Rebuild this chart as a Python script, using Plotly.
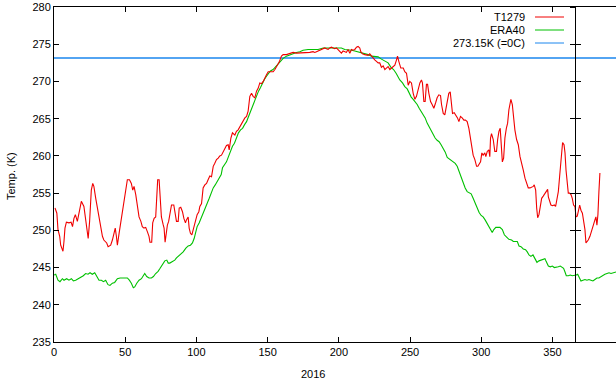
import plotly.graph_objects as go

# ---------------- data ----------------
t1279_day = [0.7, 2, 2.8, 4, 4.7, 6.3, 7, 7.7, 8.7, 10.5, 12, 13, 14, 15, 16.4, 17.6, 19.2, 21, 22.2, 23.4,
             24, 25, 26.2, 27.2, 28, 29.3, 30.4, 31.6, 32.8, 34, 35, 37, 38, 39.8, 41, 42.2, 43, 43.8, 44.5, 45.7,
             46.8, 48, 49.2, 50.4, 51.5, 53, 54.3, 55.3, 56.2, 57.4, 58.5, 59.7, 61, 62, 63.2, 64.4, 65.6, 66.7, 67.4, 68.6,
             69.3, 70.3, 71.4, 72, 72.8, 73.8, 74.5, 75.4, 76.6, 77.3, 78, 79, 79.6, 80.5, 81.3, 82.5, 84.1, 84.8, 86, 87.2,
             87.9, 89, 90.2, 91.2, 92.3, 93, 94.2, 94.9, 95.8, 96.8, 97.7, 98.6, 99.6, 100.5, 101.7, 102.4, 103.6, 104.7, 105.9, 107.1,
             108.2, 109.4, 110.6, 111.8, 112.9, 114.1, 115.3, 116.4, 117.6, 118.8, 120, 121.1, 122.3, 123, 124.2, 125.3, 127, 128.1, 129.3, 130.5,
             131.7, 132.8, 134, 135.2, 136.3, 137.5, 138.7, 139.8, 141, 142.2, 143.4, 144.5, 145.7, 146.9, 148, 149.2, 150.4, 151.5, 152.7, 153.9,
             155.1, 156.2, 157.4, 158.1, 159.7, 160.9, 163.2, 164.4, 165.5, 167.9, 170.2, 172.6, 174.9, 177.2, 179.6, 181.9, 183.1, 184.3, 186.6, 187.8,
             189, 190.1, 191.3, 192.5, 193.6, 194.8, 196, 197.1, 198.3, 199.5, 200.7, 201.8, 203, 204.2, 205.3, 206.5, 207.7, 208.9, 210, 211.2,
             212.4, 213.5, 214.7, 215.4, 216.6, 218.2, 219.4, 220.6, 221.7, 222.9, 224.1, 225.2, 226.4, 227.6, 228.7, 229.9, 231.1, 232.3, 233.4, 234.6,
             235.8, 236.9, 238.1, 239.3, 240.5, 241.2, 242.1, 243.5, 245.2, 246.3, 247.5, 248.7, 249.8, 251, 252.2, 253.4, 254.5, 255.7, 256.9, 258,
             258.7, 259.7, 260.6, 261.5, 262.3, 263.2, 264.4, 265.5, 266.7, 267.9, 269, 270.2, 271.4, 272.1, 273.3, 274.4, 275.1, 276.1, 277.2, 278.2,
             279.1, 279.8, 281, 282.1, 283.3, 284.3, 285.4, 286.6, 287.8, 288.9, 290.1, 291.3, 292.2, 293.2, 294.3, 295.5, 296.7, 297.6, 298.5, 299.5,
             300.4, 301.3, 302.5, 303.2, 304.2, 305.3, 306, 306.5, 307.2, 308.4, 309.5, 310.7, 311.5, 312.4, 313.3, 314, 314.8, 315.7, 316.6, 317.6,
             318.5, 319.4, 320.4, 320.8, 321.8, 322.5, 323.6, 324.8, 326, 327.2, 328.3, 329.5, 330.7, 331.8, 333, 334.2, 335.3, 336.5, 337.2, 338.2,
             338.9, 339.6, 340.5, 341.4, 342.4, 343.5, 344.7, 345.9, 346.6, 347.1, 347.8, 348.9, 350.1, 351.3, 352.2, 353.1, 354.1, 355, 355.7, 356.4,
             357.1, 358.1, 358.8, 359.5, 360.2, 361.1, 362, 363, 363.9, 364.8, 365.8, 366.5, 367.4, 368.1, 369.1, 370, 371, 371.9, 372.8, 373.5,
             374.4, 375.1, 376.3, 377.5, 378.7, 379.8, 380.5, 381.2, 381.9, 382.6, 383.3]
t1279_temp = [253.0, 252.3, 250.1, 249.2, 248.0, 247.2, 248.5, 250.3, 251.1, 251.0, 251.1, 250.5, 251.6, 252.1, 251.2, 252.3, 253.9, 253.2, 251.4, 250.3,
              248.9, 251.2, 255.4, 256.3, 255.9, 254.3, 253.0, 251.4, 250.3, 249.2, 248.7, 248.3, 247.8, 248.0, 248.7, 249.8, 250.3, 249.2, 248.0, 249.6,
              251.0, 252.3, 253.4, 255.2, 256.8, 256.8, 256.3, 255.4, 255.9, 254.8, 253.0, 251.8, 251.2, 250.5, 250.3, 250.4, 249.8, 249.2, 248.4, 248.4,
              251.0, 251.6, 251.8, 254.3, 256.8, 256.8, 254.3, 251.8, 250.8, 250.3, 248.4, 250.0, 250.7, 251.2, 252.3, 253.4, 253.4, 252.7, 251.2, 251.2,
              253.0, 253.1, 252.5, 251.6, 251.0, 251.4, 251.8, 250.3, 249.6, 249.4, 250.1, 250.5, 251.4, 252.1, 252.5, 253.2, 253.6, 255.7, 256.1, 256.3,
              256.8, 257.3, 257.2, 258.6, 259.0, 259.5, 259.7, 260.0, 260.1, 260.6, 261.0, 261.4, 261.5, 260.8, 262.4, 263.1, 262.8, 263.3, 263.5, 263.9,
              264.4, 264.8, 265.1, 265.3, 266.0, 268.0, 268.4, 268.0, 267.8, 268.7, 269.1, 269.8, 269.7, 270.0, 270.5, 270.9, 271.3, 271.3, 271.3, 271.3,
              271.6, 272.0, 272.5, 272.6, 273.4, 273.6, 273.6, 273.7, 273.8, 273.9, 273.8, 273.8, 273.9, 273.9, 273.9, 274.0, 273.9, 274.0, 274.2, 274.3,
              274.3, 274.5, 274.4, 274.3, 274.5, 274.6, 274.5, 274.4, 274.5, 274.3, 274.0, 273.8, 274.1, 274.0, 273.9, 274.3, 273.8, 274.3, 274.2, 274.3,
              274.6, 274.7, 274.5, 274.0, 273.7, 273.6, 273.6, 273.5, 273.7, 273.4, 273.1, 272.9, 272.7, 272.5, 272.5, 271.9, 272.1, 271.6, 271.8, 272.0,
              271.6, 271.8, 272.0, 272.2, 272.9, 273.4, 272.7, 271.8, 271.8, 271.3, 271.1, 269.5, 270.0, 269.8, 268.4, 267.6, 268.0, 269.1, 269.8, 270.2,
              269.8, 267.3, 267.3, 269.6, 269.6, 268.4, 267.3, 266.9, 266.4, 267.1, 267.8, 268.2, 268.1, 266.9, 265.7, 265.5, 266.2, 267.5, 268.4, 268.6,
              267.1, 265.7, 265.8, 265.5, 265.1, 264.6, 265.3, 265.1, 264.8, 264.8, 264.6, 263.7, 262.6, 261.0, 260.1, 259.5, 258.6, 258.6, 259.0, 259.2,
              260.4, 260.1, 260.4, 259.9, 260.6, 260.8, 259.9, 262.4, 263.0, 262.2, 260.6, 260.6, 262.2, 263.3, 263.7, 260.8, 259.2, 259.7, 262.4, 263.7,
              264.4, 266.2, 267.1, 267.6, 266.9, 265.5, 263.5, 262.2, 261.5, 259.9, 259.2, 258.1, 257.0, 256.4, 255.7, 255.7, 255.8, 255.9, 256.1, 255.4,
              253.0, 251.7, 252.1, 253.4, 254.3, 254.6, 255.0, 255.4, 255.5, 254.5, 253.9, 253.4, 253.3, 253.4, 253.2, 254.1, 255.2, 257.2, 259.2, 260.8,
              261.8, 261.5, 260.4, 258.1, 256.8, 255.0, 255.0, 254.8, 254.3, 253.4, 253.2, 251.8, 251.9, 252.5, 253.4, 252.7, 252.3, 251.2, 250.1, 248.3,
              248.5, 248.7, 249.2, 250.1, 250.7, 251.4, 251.8, 250.7, 252.1, 255.2, 257.7]

era40_day = [0, 1.2, 2.8, 4.2, 5.9, 7, 8.9, 10.5, 12.2, 13.6, 15.2, 16.9, 18.7, 20.6, 22.2, 23.9, 25.3, 26.9, 28.6, 30,
             31.6, 33.3, 34.7, 36.3, 37.9, 39.3, 41, 42.6, 44.5, 46.4, 48, 49.6, 51.5, 52.9, 54.3, 55.7, 56.7, 58.1, 59.7, 61.4,
             62.8, 63.7, 65.1, 66.7, 68.4, 69.8, 71.4, 73.1, 74.5, 76.1, 77.8, 79.2, 80.2, 81.3, 82.5, 83.7, 84.8, 86, 87.2, 88.8,
             90.7, 92.6, 94.2, 95.8, 97.2, 98.4, 99.3, 100.5, 101.9, 103.3, 104.7, 106.1, 107.5, 109, 110.4, 111.8, 113.2, 114.6, 116, 117.4,
             118.3, 119.7, 121.1, 122.5, 123.9, 125.3, 126.7, 128.1, 129.5, 131, 132.4, 133.8, 135.2, 136.6, 138, 139.4, 140.8, 142.2, 143.6, 145,
             146.4, 147.8, 149.2, 150.6, 152, 153.8, 156.2, 158.5, 160.9, 163.2, 165.5, 167.9, 170.2, 172.6, 174.9, 178.4, 181.9, 185.4, 189, 192.5,
             196, 199.5, 201.8, 204.2, 206.5, 208.9, 211.2, 213.5, 215.9, 218.2, 220.6, 222.9, 225.2, 227.6, 229.9, 232.3, 234.6, 236.6, 238.4, 240.2,
             242.8, 244.7, 246.3, 248, 249.4, 250.8, 252.2, 253.6, 255, 256.4, 257.8, 259.2, 260.6, 262, 263.4, 264.8, 266.2, 267.6, 269, 270.4,
             271.8, 273.3, 274.7, 276.1, 277.5, 278.9, 280.3, 281.7, 283.1, 284.5, 285.9, 287.3, 288.7, 290.1, 291.5, 292.9, 294.3, 295.7, 297.1, 298.5,
             299.9, 301.3, 302.7, 304.1, 305.6, 306.7, 307.7, 308.8, 310.2, 311.9, 313.1, 314.8, 316.2, 317.8, 319.4, 321.3, 322.5, 324.1, 325.3, 326.5,
             327.9, 329.5, 331.1, 332.3, 333.5, 334.9, 336.3, 337.7, 339.1, 340.5, 341.9, 343.3, 344.7, 345.6, 347.1, 348.5, 349.9, 351.3, 352.7, 354.1,
             355.5, 356.9, 357.8, 358.8, 359.7, 361.1, 362.5, 363.9, 365.3, 366.7, 367.7, 368.6, 370, 371.4, 372.8, 374.2, 375.6, 377, 378.4, 379.8,
             381.2, 382.6, 384, 385.4, 386.8, 388.3, 389.7, 391.1, 392.5, 393.9, 394.6]
era40_temp = [244.0, 244.1, 243.3, 243.1, 243.5, 243.3, 243.5, 243.3, 243.5, 243.2, 243.3, 243.5, 243.6, 243.9, 244.2, 244.1, 244.3, 244.1, 244.3, 243.8,
              243.3, 243.3, 243.1, 243.3, 242.7, 242.6, 242.9, 243.0, 243.5, 243.6, 243.6, 243.7, 243.6, 243.3, 242.9, 242.3, 242.4, 242.9, 243.3, 243.5,
              244.0, 244.2, 243.8, 243.6, 243.6, 243.8, 244.2, 244.5, 244.9, 245.4, 245.9, 246.0, 245.6, 245.6, 245.7, 245.8, 246.0, 246.3, 246.5, 246.7,
              247.1, 247.6, 247.9, 248.0, 248.3, 248.9, 249.8, 250.5, 251.0, 251.6, 252.3, 252.8, 253.6, 254.3, 255.0, 255.7, 256.1, 256.6, 257.0, 257.5,
              258.4, 258.8, 259.2, 259.9, 260.6, 261.3, 261.7, 262.4, 263.1, 263.5, 263.7, 264.2, 264.6, 265.3, 266.0, 266.6, 267.3, 268.0, 268.7, 269.2,
              269.8, 270.3, 270.7, 271.1, 271.4, 271.6, 272.1, 272.7, 273.1, 273.4, 273.6, 273.7, 273.9, 274.0, 274.2, 274.3, 274.3, 274.3, 274.5, 274.5,
              274.5, 274.5, 274.5, 274.3, 274.3, 274.2, 274.1, 274.0, 273.8, 273.7, 273.6, 273.4, 273.4, 273.3, 273.0, 272.8, 272.5, 271.9, 271.6, 271.1,
              270.2, 269.8, 269.3, 269.0, 268.4, 267.9, 267.6, 267.3, 266.9, 266.4, 266.0, 265.5, 265.1, 264.4, 263.9, 263.5, 262.8, 262.4, 262.1, 261.9,
              261.5, 261.0, 260.5, 259.8, 259.6, 259.4, 259.2, 259.0, 258.6, 257.9, 257.2, 256.3, 255.7, 255.2, 255.0, 254.9, 254.3, 253.6, 253.0, 252.4,
              252.0, 251.8, 251.4, 250.9, 250.5, 250.1, 249.7, 250.1, 250.4, 250.4, 250.4, 250.1, 249.4, 249.1, 248.8, 248.7, 248.5, 248.5, 248.5, 247.9,
              247.8, 247.5, 247.4, 247.1, 246.7, 246.5, 246.7, 246.2, 245.7, 245.9, 246.0, 246.1, 246.2, 245.8, 245.2, 245.1, 245.2, 245.0, 245.0, 245.1,
              245.2, 245.0, 244.9, 244.4, 243.9, 243.9, 244.0, 243.9, 243.9, 244.0, 244.1, 243.7, 243.2, 243.3, 243.4, 243.3, 243.4, 243.3, 243.2, 243.4,
              243.6, 243.6, 243.8, 243.9, 244.1, 244.2, 244.3, 244.2, 244.3, 244.3, 244.4]

FREEZE_K = 273.15
YEAR_END_DAY = 366
X_RANGE = [0, 394.6]
Y_RANGE = [235, 280]
X_TICKS = [0, 50, 100, 150, 200, 250, 300, 350]
Y_TICKS = [235, 240, 245, 250, 255, 260, 265, 270, 275, 280]
LEGEND_NAMES = ["T1279", "ERA40", "273.15K (=0C)"]

RED = "#f00000"
GREEN = "#00c000"
BLUE = "#1a86ee"
FONT = "Liberation Sans"

# ---------------- figure ----------------
W, H = 616, 380
ML, MR, MT, MB = 54, 0, 7, 38
PW, PH = W - ML - MR, H - MT - MB


def px_x(px):
    return (px - ML) / PW


def px_y(py):
    return (H - MB - py) / PH


fig = go.Figure()
fig.add_trace(go.Scatter(x=X_RANGE, y=[FREEZE_K, FREEZE_K], mode="lines",
                         line=dict(color=BLUE, width=1.3), showlegend=False, hoverinfo="skip"))
fig.add_trace(go.Scatter(x=era40_day, y=era40_temp, mode="lines",
                         line=dict(color=GREEN, width=1.1), showlegend=False))
fig.add_trace(go.Scatter(x=t1279_day, y=t1279_temp, mode="lines",
                         line=dict(color=RED, width=1.1), showlegend=False))
# empty traces for the overlay axes marking the year end
fig.add_trace(go.Scatter(x=[], y=[], yaxis="y2", showlegend=False))
fig.add_trace(go.Scatter(x=[], y=[], yaxis="y3", showlegend=False))

vpos = (YEAR_END_DAY - X_RANGE[0]) / (X_RANGE[1] - X_RANGE[0])

common_y = dict(range=Y_RANGE, tickvals=Y_TICKS, showgrid=False, zeroline=False, fixedrange=True)

fig.update_layout(
    width=W, height=H,
    margin=dict(l=ML, r=MR, t=MT, b=MB, autoexpand=False),
    paper_bgcolor="white", plot_bgcolor="white",
    font=dict(family=FONT, size=11, color="black"),
    showlegend=False,
    xaxis=dict(range=X_RANGE, tickvals=X_TICKS, ticks="inside", ticklen=5, tickwidth=1, tickcolor="black",
               showline=True, linecolor="black", linewidth=1, mirror="ticks",
               showgrid=False, zeroline=False, tickfont=dict(size=11, family=FONT)),
    yaxis=dict(**common_y, ticks="inside", ticklen=5, tickwidth=1, tickcolor="black",
               showline=True, linecolor="black", linewidth=1, mirror=False,
               tickfont=dict(size=11, family=FONT)),
    yaxis2=dict(**common_y, overlaying="y", anchor="free", position=vpos, side="left",
                ticks="inside", ticklen=5, tickwidth=1, tickcolor="black",
                showline=True, linecolor="black", linewidth=1, showticklabels=False),
    yaxis3=dict(**common_y, overlaying="y", anchor="free", position=vpos, side="left",
                ticks="outside", ticklen=5, tickwidth=1, tickcolor="black",
                showline=False, showticklabels=False),
)

# axis titles
fig.add_annotation(text="Temp. (K)", xref="paper", yref="paper", x=px_x(11), y=px_y(176),
                   textangle=-90, showarrow=False, xanchor="center", yanchor="middle",
                   font=dict(size=11, family=FONT))
fig.add_annotation(text="2016", xref="paper", yref="paper", x=px_x(313), y=px_y(374),
                   showarrow=False, xanchor="center", yanchor="middle",
                   font=dict(size=11, family=FONT))

# key (gnuplot style: text on the left, sample on the right)
for name, color, py in zip(LEGEND_NAMES, [RED, GREEN, BLUE], [17, 30, 43]):
    fig.add_annotation(text=name, xref="paper", yref="paper", x=px_x(527), y=px_y(py),
                       showarrow=False, xanchor="right", yanchor="middle",
                       font=dict(size=11, family=FONT))
    fig.add_shape(type="line", xref="paper", yref="paper", x0=px_x(535), x1=px_x(564),
                  y0=px_y(py), y1=px_y(py), line=dict(color=color, width=1))

fig.write_html("out.html", config={"displayModeBar": False},
               post_script="document.body.style.margin='0px';document.body.style.overflow='hidden';")
